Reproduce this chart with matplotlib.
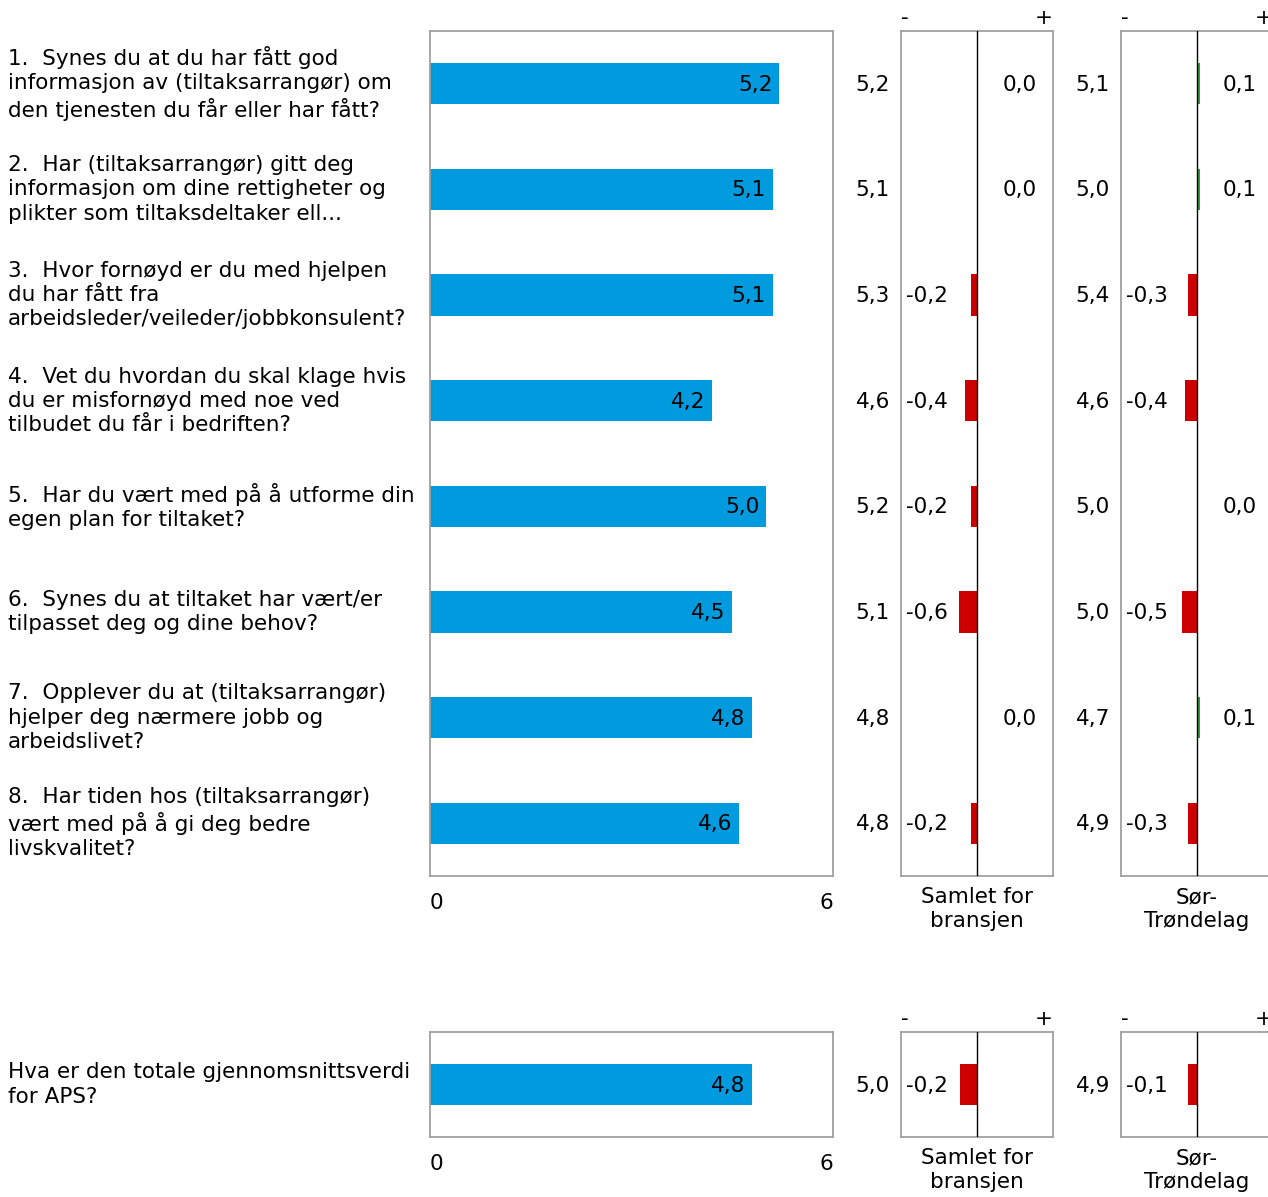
import matplotlib.pyplot as plt
import matplotlib.transforms as mtransforms

# -- data --
questions = [
    "1.  Synes du at du har fått god\ninformasjon av (tiltaksarrangør) om\nden tjenesten du får eller har fått?",
    "2.  Har (tiltaksarrangør) gitt deg\ninformasjon om dine rettigheter og\nplikter som tiltaksdeltaker ell...",
    "3.  Hvor fornøyd er du med hjelpen\ndu har fått fra\narbeidsleder/veileder/jobbkonsulent?",
    "4.  Vet du hvordan du skal klage hvis\ndu er misfornøyd med noe ved\ntilbudet du får i bedriften?",
    "5.  Har du vært med på å utforme din\negen plan for tiltaket?",
    "6.  Synes du at tiltaket har vært/er\ntilpasset deg og dine behov?",
    "7.  Opplever du at (tiltaksarrangør)\nhjelper deg nærmere jobb og\narbeidslivet?",
    "8.  Har tiden hos (tiltaksarrangør)\nvært med på å gi deg bedre\nlivskvalitet?",
]
scores = [5.2, 5.1, 5.1, 4.2, 5.0, 4.5, 4.8, 4.6]
samlet = [5.2, 5.1, 5.3, 4.6, 5.2, 5.1, 4.8, 4.8]
diff_samlet = [0.0, 0.0, -0.2, -0.4, -0.2, -0.6, 0.0, -0.2]
sor = [5.1, 5.0, 5.4, 4.6, 5.0, 5.0, 4.7, 4.9]
diff_sor = [0.1, 0.1, -0.3, -0.4, 0.0, -0.5, 0.1, -0.3]

total_question = ["Hva er den totale gjennomsnittsverdi\nfor APS?"]
total_score = [4.8]
total_samlet = [5.0]
total_diff_samlet = [-0.2]
total_sor = [4.9]
total_diff_sor = [-0.1]

panel_names = ["Samlet for\nbransjen", "Sør-\nTrøndelag"]

# -- style --
c_blue = '#009ade'
c_red = '#cc0000'
c_green = '#339933'
c_border = '#a0a0a0'
fs = 15.5
lsp = 1.26
bar_h = 0.39

W, H = 1268, 1197
fig = plt.figure(figsize=(W / 100, H / 100), dpi=100, facecolor='white')


def frac(x0, y0, x1, y1):
    # caja en pixeles -> fraccion de figura [left, bottom, width, height]
    return [x0 / W, 1 - y1 / H, (x1 - x0) / W, (y1 - y0) / H]


def fy(py):
    # pixel y (desde arriba) -> fraccion de figura
    return 1 - py / H


def style_frame(ax):
    for s in ax.spines.values():
        s.set_color(c_border)
        s.set_linewidth(1.3)
    ax.set_xticks([])
    ax.set_yticks([])


def fmt(v):
    return f"{v:.1f}".replace('.', ',')


def draw_block(y0, y1, labels, vals, comp1, d1, comp2, d2, drange):
    n = len(labels)
    ypos = list(range(n))

    # barras principales
    ax = fig.add_axes(frac(430, y0, 833, y1))
    ax.barh(ypos, vals, height=bar_h, color=c_blue, zorder=2)
    ax.set_xlim(0, 6)
    ax.set_ylim(n - 0.5, -0.5)
    style_frame(ax)
    lab_tr = mtransforms.blended_transform_factory(fig.transFigure, ax.transData)
    for y, v, lab in zip(ypos, vals, labels):
        ax.text(v - 0.1, y + 0.01, fmt(v), ha='right', va='center', fontsize=fs, zorder=3)
        ax.text(8 / W, y, lab, transform=lab_tr, ha='left', va='center',
                fontsize=fs, linespacing=lsp)
    tick_tr = mtransforms.blended_transform_factory(ax.transData, fig.transFigure)
    ax.text(0, fy(y1 + 27), "0", transform=tick_tr, ha='left', va='center', fontsize=fs)
    ax.text(6, fy(y1 + 27), "6", transform=tick_tr, ha='right', va='center', fontsize=fs)

    # paneles de diferencia
    for px0, comp, diffs, name in [(901, comp1, d1, panel_names[0]),
                                   (1121, comp2, d2, panel_names[1])]:
        dx = fig.add_axes(frac(px0, y0, px0 + 152, y1))
        colors = [c_green if d > 0 else c_red for d in diffs]
        dx.barh(ypos, diffs, height=bar_h, color=colors, zorder=2)
        dx.axvline(0, color='black', lw=1.0, zorder=3)
        dx.set_xlim(-drange, drange)
        dx.set_ylim(n - 0.5, -0.5)
        style_frame(dx)
        blend = mtransforms.blended_transform_factory(dx.transAxes, dx.transData)
        for y, c, d in zip(ypos, comp, diffs):
            dx.text(-11 / 152, y + 0.01, fmt(c), transform=blend, ha='right', va='center', fontsize=fs)
            if d < 0:
                dx.text(5 / 152, y + 0.01, fmt(d), transform=blend, ha='left', va='center', fontsize=fs)
            else:
                dx.text(1 - 16 / 152, y + 0.01, fmt(d), transform=blend, ha='right', va='center', fontsize=fs)
        top_tr = mtransforms.blended_transform_factory(dx.transAxes, fig.transFigure)
        dx.text(4 / 152, fy(y0 - 13), "-", transform=top_tr, ha='center', va='center', fontsize=fs)
        dx.text(1 - 9 / 152, fy(y0 - 13), "+", transform=top_tr, ha='center', va='center', fontsize=fs)
        dx.text(0.5, fy(y1 + 11), name, transform=top_tr, ha='center', va='top',
                fontsize=fs, linespacing=lsp)

    return ax


ax_main = draw_block(31, 876, questions, scores, samlet, diff_samlet, sor, diff_sor, 2.6)
ax_tot = draw_block(1032, 1137, total_question, total_score, total_samlet, total_diff_samlet,
                    total_sor, total_diff_sor, 0.87)

fig.savefig('out.png', dpi=100, facecolor='white')
